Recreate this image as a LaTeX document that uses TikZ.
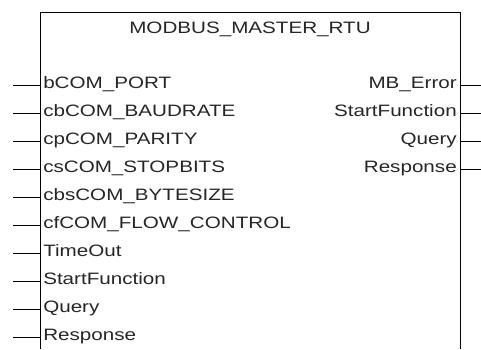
\documentclass[tikz,border=0pt]{standalone}
\usepackage{fontspec}
\setmainfont{Liberation Sans}
\begin{document}
\begin{tikzpicture}[x=1pt,y=-1pt,
  pinline/.style={draw=black,line width=1.3pt},
  boxline/.style={draw=black,line width=1.5pt},
  lbl/.style={inner sep=0pt,text=black!85,font=\fontsize{16.5}{18}\selectfont,xscale=1.25,transform shape},
  inlbl/.style={lbl,anchor=base west},
  outlbl/.style={lbl,anchor=base east}]
\useasboundingbox[fill=white] (0,0) rectangle (481,349);
% function block outline (open at the bottom)
\draw[boxline] (40.5,349) -- (40.5,12.5) -- (460.5,12.5) -- (460.5,349);
\node[lbl,anchor=base] (title) at (250,33) {MODBUS\_MASTER\_RTU};
% input pins
\foreach \i/\name in {0/bCOM\_PORT,1/cbCOM\_BAUDRATE,2/cpCOM\_PARITY,3/csCOM\_STOPBITS,
  4/cbsCOM\_BYTESIZE,5/cfCOM\_FLOW\_CONTROL,6/TimeOut,7/StartFunction,8/Query,9/Response}{
  \coordinate (in\i) at (13,85.5+28*\i);
  \coordinate (ine\i) at (40.5,85.5+28*\i);
  \node[inlbl] (inl\i) at (43,88+28*\i) {\name};
  \draw[pinline] (in\i) -- (ine\i);
}
% output pins
\foreach \i/\name in {0/MB\_Error,1/StartFunction,2/Query,3/Response}{
  \coordinate (oute\i) at (460.5,85.5+28*\i);
  \coordinate (out\i) at (481,85.5+28*\i);
  \node[outlbl] (outl\i) at (457,88+28*\i) {\name};
  \draw[pinline] (oute\i) -- (out\i);
}
\end{tikzpicture}
\end{document}
